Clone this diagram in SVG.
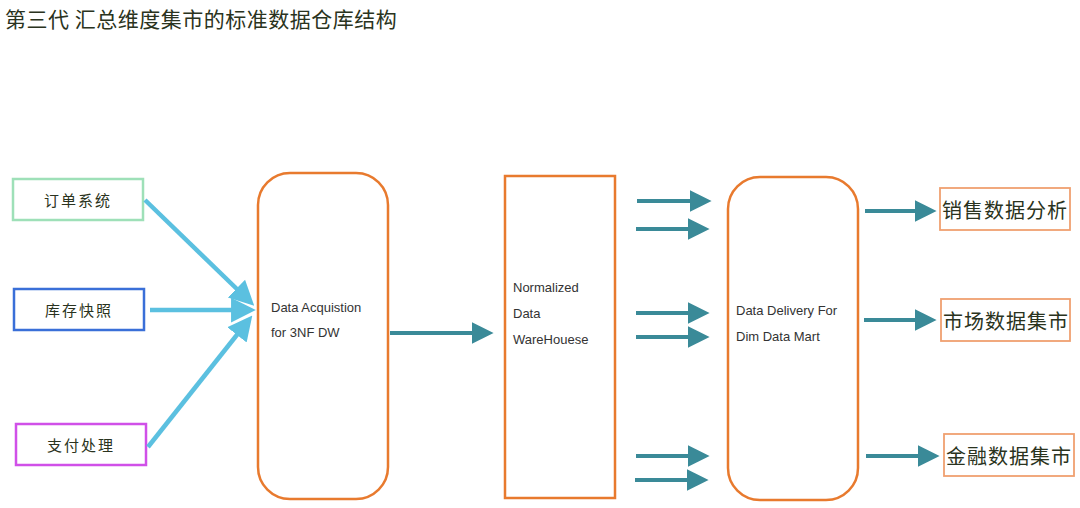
<svg xmlns="http://www.w3.org/2000/svg" width="1080" height="508" viewBox="0 0 1080 508">
<style>
.cjk{font-family:"Noto Sans CJK SC","Liberation Sans",sans-serif;fill:#2a3320}
.en{font-family:"Liberation Sans","Noto Sans",sans-serif;font-size:13px;fill:#333}
.box{fill:#fff;stroke-width:2.5}
.org{fill:#fff;stroke:#e87a2e;stroke-width:2.5}
.tbox{fill:#fff;stroke:#f0a070;stroke-width:1.8}
.blue{stroke:#5bc0e0;stroke-width:4.5;fill:none}
.teal{stroke:#3a8a98;stroke-width:4;fill:none}
</style>
<defs>
<marker id="hb" viewBox="0 0 10 10" refX="2" refY="5" markerWidth="5.5" markerHeight="6" markerUnits="strokeWidth" orient="auto"><path d="M0,0 L10,5 L0,10 z" fill="#5bc0e0"/></marker>
<marker id="ht" viewBox="0 0 10 10" refX="2" refY="5" markerWidth="5.5" markerHeight="6" markerUnits="strokeWidth" orient="auto"><path d="M0,0 L10,5 L0,10 z" fill="#3a8a98"/></marker>
</defs>
<rect width="1080" height="508" fill="#fff"/>
<text x="5" y="27" class="cjk" font-size="21" letter-spacing="0.5" fill="#222">第三代 汇总维度集市的标准数据仓库结构</text>

<g id="src-order"><rect x="13" y="179" width="130" height="41" class="box" stroke="#9ee0b8"/><text x="78" y="206" class="cjk" font-size="15" letter-spacing="2" text-anchor="middle">订单系统</text></g>
<g id="src-stock"><rect x="14" y="289" width="130" height="41" class="box" stroke="#3a6fd8"/><text x="79" y="316" class="cjk" font-size="15" letter-spacing="2" text-anchor="middle">库存快照</text></g>
<g id="src-pay"><rect x="16" y="424" width="130" height="41" class="box" stroke="#d050e8"/><text x="81" y="451" class="cjk" font-size="15" letter-spacing="2" text-anchor="middle">支付处理</text></g>

<g id="acq"><rect x="258" y="173" width="130" height="326" rx="32" class="org"/><text x="271" y="312" class="en">Data Acquistion</text><text x="271" y="337" class="en">for 3NF DW</text></g>
<g id="ndw"><rect x="505" y="176" width="110" height="322" class="org"/><text x="513" y="292" class="en">Normalized</text><text x="513" y="318" class="en">Data</text><text x="513" y="344" class="en">WareHouese</text></g>
<g id="dm"><rect x="728" y="177" width="130" height="323" rx="32" class="org"/><text x="736" y="315" class="en">Data Delivery For</text><text x="736" y="341" class="en">Dim Data Mart</text></g>

<g id="out-sales"><rect x="940" y="188" width="130" height="42" class="tbox"/><text x="1005" y="218" class="cjk" font-size="20" letter-spacing="1" text-anchor="middle">销售数据分析</text></g>
<g id="out-market"><rect x="941" y="299" width="129" height="42" class="tbox"/><text x="1006" y="329" class="cjk" font-size="20" letter-spacing="1" text-anchor="middle">市场数据集市</text></g>
<g id="out-fin"><rect x="944" y="434" width="130" height="42" class="tbox"/><text x="1009" y="464" class="cjk" font-size="20" letter-spacing="1" text-anchor="middle">金融数据集市</text></g>

<g id="connectors">
<line x1="145" y1="200" x2="240" y2="292" class="blue" marker-end="url(#hb)"/>
<line x1="150" y1="310" x2="236" y2="310" class="blue" marker-end="url(#hb)"/>
<line x1="148" y1="447" x2="240" y2="331" class="blue" marker-end="url(#hb)"/>
<line x1="390" y1="333" x2="476" y2="333" class="teal" marker-end="url(#ht)"/>
<line x1="637" y1="201" x2="694" y2="201" class="teal" marker-end="url(#ht)"/>
<line x1="636" y1="229" x2="692" y2="229" class="teal" marker-end="url(#ht)"/>
<line x1="636" y1="313" x2="692" y2="313" class="teal" marker-end="url(#ht)"/>
<line x1="636" y1="337" x2="692" y2="337" class="teal" marker-end="url(#ht)"/>
<line x1="636" y1="456" x2="692" y2="456" class="teal" marker-end="url(#ht)"/>
<line x1="635" y1="480" x2="691" y2="480" class="teal" marker-end="url(#ht)"/>
<line x1="865" y1="211" x2="919" y2="211" class="teal" marker-end="url(#ht)"/>
<line x1="864" y1="320" x2="919" y2="320" class="teal" marker-end="url(#ht)"/>
<line x1="866" y1="456" x2="922" y2="456" class="teal" marker-end="url(#ht)"/>
</g>
</svg>
